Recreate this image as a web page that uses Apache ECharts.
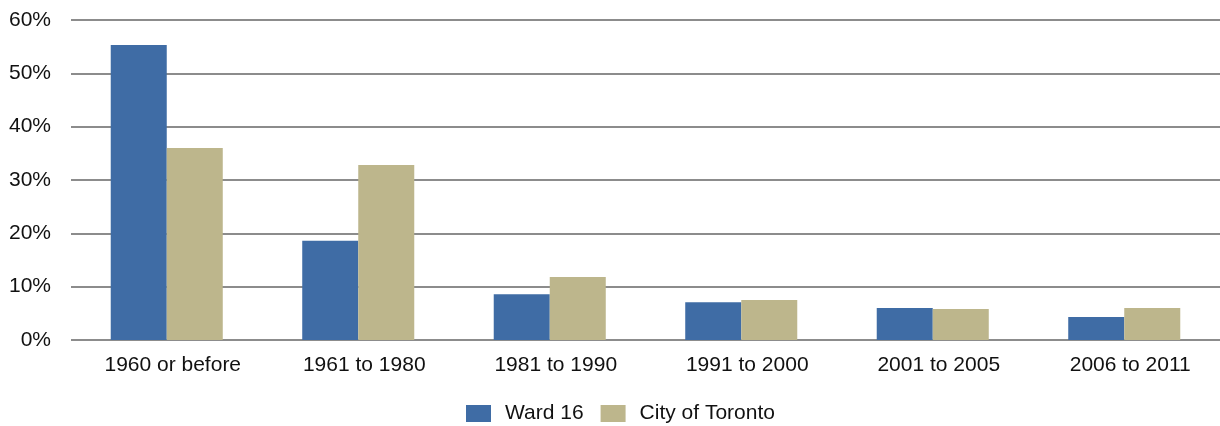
<!DOCTYPE html>
<html><head><meta charset="utf-8">
<script src="https://cdn.jsdelivr.net/npm/echarts@6/dist/echarts.min.js"></script>
<style>html,body{margin:0;padding:0;background:#fff}#c{width:1220px;height:426px}</style>
</head><body><div id="c"></div>
<script>
const categories = ["1960 or before","1961 to 1980","1981 to 1990","1991 to 2000","2001 to 2005","2006 to 2011"];
const ward16 = [55.3, 18.6, 8.6, 7.1, 6.0, 4.3];
const toronto = [36.0, 32.8, 11.8, 7.5, 5.8, 6.0];
const seriesNames = ["Ward 16", "City of Toronto"];
const chart = echarts.init(document.getElementById('c'));
const font = "'Liberation Sans', Arial, sans-serif";
chart.setOption({
  animation: false,
  grid: {left: 71, right: 0, top: 20, bottom: 86},
  legend: {
    top: 398, left: 461, itemWidth: 25, itemHeight: 17, itemGap: 17,
    icon: 'rect',
    textStyle: {fontFamily: font, fontSize: 21, color: '#111', padding: [0, 0, 0, 9]},
    data: seriesNames
  },
  xAxis: {
    type: 'category', data: categories,
    axisLine: {show: false}, axisTick: {show: false},
    axisLabel: {fontFamily: font, fontSize: 21, color: '#111', margin: 15, padding: [0, 0, 0, 12]}
  },
  yAxis: {
    type: 'value', min: 0, max: 60, interval: 10,
    axisLabel: {formatter: '{value}%', fontFamily: font, fontSize: 21, color: '#111', margin: 20},
    splitLine: {lineStyle: {color: '#8c8c8c', width: 2}},
    axisLine: {show: false}, axisTick: {show: false}
  },
  series: [
    {name: seriesNames[0], type: 'bar', data: ward16, itemStyle: {color: '#3f6ca5'}, barGap: '0%', barCategoryGap: '41.5%'},
    {name: seriesNames[1], type: 'bar', data: toronto, itemStyle: {color: '#bdb68c'}, barGap: '0%', barCategoryGap: '41.5%'}
  ]
});
</script></body></html>
